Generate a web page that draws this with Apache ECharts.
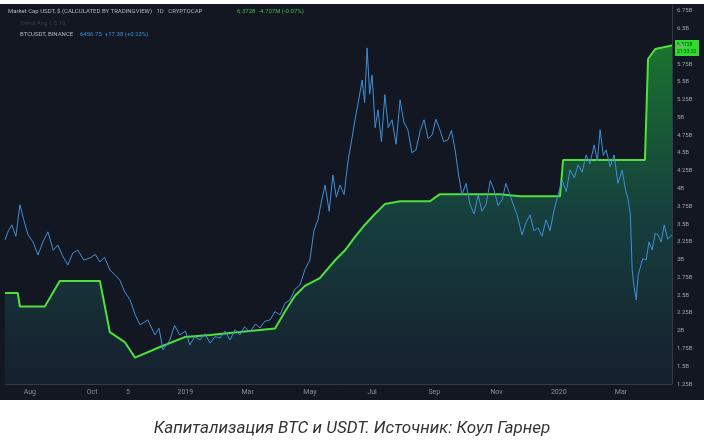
<!DOCTYPE html><html><head><meta charset="utf-8">
<script src="https://cdn.jsdelivr.net/npm/echarts@6/dist/echarts.min.js"></script>
<style>html,body{margin:0;background:#fff}#c{width:704px;height:444px}</style></head><body><div id="c"></div>
<script>
// x values: months since 2018-08-01
const xLabels = {"0":"Aug","2":"Oct","3.15":"5","5":"2019","7":"Mar","9":"May","11":"Jul","13":"Sep","15":"Nov","17":"2020","19":"Mar"};
const yLabels = ["1.25B","1.5B","1.75B","2B","2.25B","2.5B","2.75B","3B","3.25B","3.5B","3.75B","4B","4.25B","4.5B","4.75B","5B","5.25B","5.5B","5.75B","6B","6.5B","6.75B"];
// USDT market cap (B)
const usdt = [[-0.80,2.53],[-0.39,2.53],[-0.32,2.34],[0.48,2.34],[0.96,2.70],[2.25,2.70],[2.41,2.34],[2.57,1.98],[3.05,1.84],[3.38,1.62],[4.18,1.77],[4.98,1.91],[5.79,1.94],[6.75,1.98],[7.88,2.03],[8.20,2.27],[8.52,2.49],[8.84,2.63],[9.32,2.74],[9.81,2.99],[10.13,3.13],[10.45,3.32],[10.77,3.49],[11.09,3.64],[11.41,3.78],[11.90,3.82],[12.86,3.82],[13.18,3.92],[15.11,3.92],[15.76,3.89],[17.04,3.89],[17.14,4.40],[19.77,4.40],[19.87,5.82],[20.10,5.96],[20.64,6.01]];
// BTC price (USD)
const btc = [[-0.80,6970],[-0.69,7300],[-0.58,7510],[-0.45,7100],[-0.32,8230],[-0.2,7700],[-0.06,7150],[0.1,6900],[0.26,6430],[0.42,6900],[0.58,7260],[0.75,6600],[0.90,6790],[1.05,6400],[1.22,6070],[1.38,6500],[1.54,6610],[1.73,6250],[1.93,6320],[2.1,6450],[2.25,6180],[2.4,6350],[2.57,5890],[2.75,5700],[2.89,5530],[3.05,5100],[3.22,4820],[3.38,4300],[3.54,3920],[3.79,4100],[4.02,3560],[4.15,3800],[4.28,3020],[4.50,3380],[4.65,3900],[4.82,3560],[5.0,3700],[5.14,3200],[5.3,3500],[5.47,3380],[5.63,3600],[5.79,3270],[5.95,3500],[6.11,3450],[6.27,3700],[6.43,3380],[6.6,3750],[6.75,3560],[6.9,3850],[7.07,3670],[7.25,3950],[7.40,3810],[7.55,4050],[7.72,4100],[7.88,4400],[8.04,4280],[8.2,4700],[8.36,4820],[8.52,5200],[8.68,5350],[8.84,5900],[9.00,6250],[9.13,7300],[9.26,7690],[9.38,8400],[9.49,8940],[9.62,8000],[9.74,9300],[9.85,8500],[9.97,8940],[10.1,8600],[10.23,9840],[10.35,10600],[10.45,11280],[10.57,12000],[10.68,12710],[10.76,11900],[10.84,13860],[10.92,12200],[11.00,12890],[11.1,11000],[11.19,11640],[11.3,10500],[11.41,12180],[11.52,11000],[11.64,11280],[11.77,10400],[11.90,12000],[12.02,11200],[12.15,10920],[12.28,10100],[12.41,10200],[12.55,10900],[12.67,11280],[12.8,10600],[12.93,10740],[13.05,11300],[13.18,10920],[13.3,10500],[13.44,10560],[13.55,10900],[13.67,10200],[13.78,9300],[13.89,8590],[14.02,9000],[14.15,8230],[14.28,7900],[14.41,8590],[14.53,8000],[14.66,8230],[14.8,9100],[14.92,8760],[15.05,8200],[15.18,8410],[15.3,9000],[15.43,8590],[15.55,8200],[15.66,7870],[15.82,7150],[15.95,7600],[16.08,7870],[16.2,7300],[16.34,7400],[16.46,7100],[16.59,7690],[16.72,7300],[16.85,8050],[16.98,8600],[17.11,9120],[17.24,8700],[17.36,9480],[17.5,9200],[17.62,9660],[17.75,9400],[17.88,10020],[18.0,9700],[18.14,10380],[18.24,9800],[18.33,10920],[18.43,10000],[18.52,10200],[18.65,9600],[18.78,10020],[18.9,9000],[19.04,9480],[19.14,8800],[19.23,8410],[19.3,7900],[19.36,5890],[19.42,5300],[19.49,4820],[19.55,5700],[19.61,5710],[19.7,6300],[19.81,6250],[19.9,6900],[20.00,6610],[20.1,7200],[20.19,7150],[20.29,6900],[20.39,7510],[20.5,7000],[20.64,7150]];
const ch = echarts.init(document.getElementById('c'));
const f = 'Roboto, sans-serif';
ch.setOption({
 backgroundColor:'#fff', animation:false,
 grid:{left:5,right:32,top:5,bottom:60},
 xAxis:{type:'value',min:-0.8,max:20.64,interval:0.05,
  axisLine:{show:true,onZero:false,lineStyle:{color:'#363a45'}},axisTick:{show:false},splitLine:{show:false},
  axisLabel:{hideOverlap:false,color:'#8b8f9a',fontSize:7,fontFamily:f,margin:5,showMinLabel:false,showMaxLabel:false,
   formatter:v=>{const k=String(Math.round(v*100)/100);return xLabels[k]||'';}}},
 yAxis:[{type:'value',position:'right',min:1.25,max:6.58,interval:0.25,
  axisLine:{show:true,onZero:false,lineStyle:{color:'#363a45'}},axisTick:{show:false},splitLine:{show:false},
  axisLabel:{color:'#9ea2ad',fontSize:6,fontFamily:f,margin:5,formatter:v=>yLabels[Math.round((v-1.25)/0.25)]||''}},
  {type:'value',min:1800,max:15400,show:false,axisLine:{onZero:false}}],
 graphic:[{type:'rect',z:-10,silent:true,shape:{x:0,y:4,width:704,height:396},style:{fill:'#131722'}},
  {type:'text',left:8,top:8,style:{text:'Market Cap USDT, $ (CALCULATED BY TRADINGVIEW)   1D   CRYPTOCAP',fill:'#b2b5be',font:'6px '+f}},
  {type:'text',left:237,top:8,style:{text:'6.3728  -4.707M (-0.07%)',fill:'#3fbf3f',font:'6px '+f}},
  {type:'text',left:20,top:20,style:{text:'Trend Ang 1.5 10',fill:'#3a3f4b',font:'6px '+f}},
  {type:'text',left:20,top:31,style:{text:'BTCUSDT, BINANCE',fill:'#b2b5be',font:'6px '+f}},
  {type:'text',left:80,top:31,style:{text:'6456.75  +17.38 (+0.23%)',fill:'#3b8fd6',font:'6px '+f}},
  {type:'rect',shape:{x:675,y:40,width:24,height:16},style:{fill:'#2fdc2f'}},
  {type:'text',left:677,top:41,style:{text:'6.3728\n21:33:22',fill:'#0a3a0a',font:'5px '+f,lineHeight:7}},
  {type:'text',left:'center',top:420,style:{text:'Капитализация BTC и USDT. Источник: Коул Гарнер',fill:'#333',font:'italic 17px '+f}}
 ],
 series:[
  {type:'line',data:usdt,symbol:'none',lineStyle:{color:'#4fe03c',width:2},z:3,
   areaStyle:{origin:'start',color:new echarts.graphic.LinearGradient(0,0,0,1,[{offset:0,color:'#1f9a35'},{offset:0.5,color:'#17514a'},{offset:1,color:'#172233'}])}},
  {type:'line',yAxisIndex:1,data:btc,symbol:'none',lineStyle:{color:'#3f8fd8',width:1},z:4}
 ]
});
</script></body></html>
